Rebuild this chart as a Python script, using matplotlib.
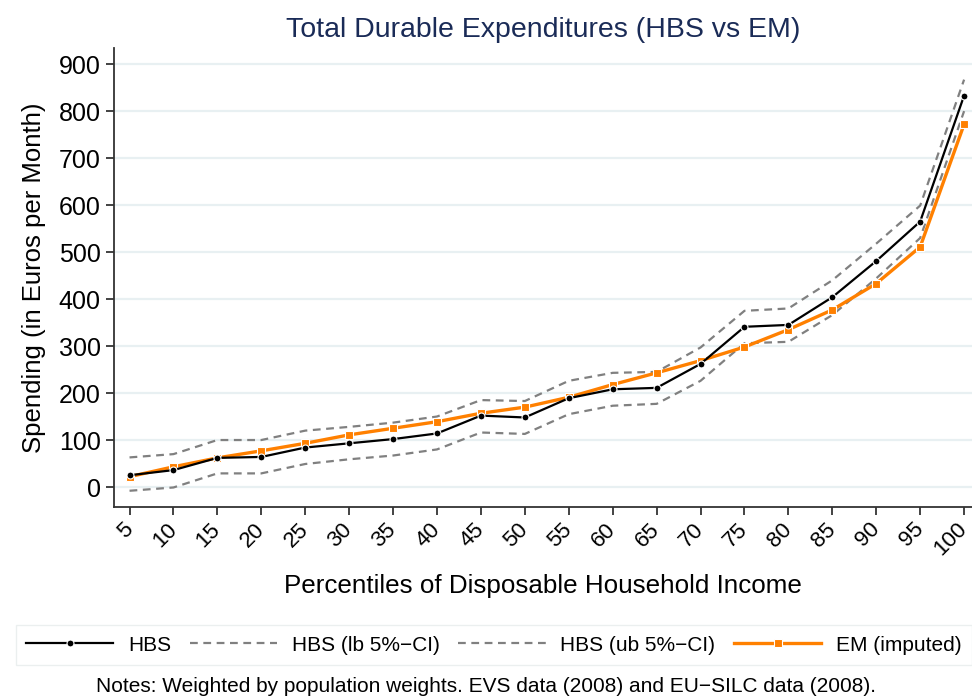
import numpy as np
import matplotlib.pyplot as plt

plt.rcParams['font.family'] = ['Liberation Sans', 'DejaVu Sans']

# percentiles of disposable household income
pct = [5, 10, 15, 20, 25, 30, 35, 40, 45, 50,
       55, 60, 65, 70, 75, 80, 85, 90, 95, 100]

hbs = [25, 36, 62, 64, 84, 93, 102, 114, 152, 148,
       189, 208, 211, 262, 341, 345, 404, 481, 565, 833]
hbs_lb = [-8, -1, 29, 29, 49, 59, 67, 80, 116, 113,
          155, 173, 177, 226, 306, 309, 366, 444, 530, 800]
hbs_ub = [63, 70, 100, 100, 120, 128, 137, 150, 185, 183,
          226, 243, 245, 297, 375, 380, 440, 518, 599, 867]
em = [22, 43, 62, 77, 93, 111, 125, 139, 157, 170,
      191, 218, 243, 269, 298, 335, 377, 433, 511, 772]

orange = '#ff8000'
grey = '#808080'

fig = plt.figure(figsize=(9.72, 6.98), dpi=100)
ax = fig.add_axes([0.117, 0.274, 0.883, 0.657])

ax.plot(pct, hbs_lb, color=grey, ls='--', lw=1.6, dashes=(3.5, 2.5), label='HBS (lb 5%\u2212CI)')
ax.plot(pct, hbs_ub, color=grey, ls='--', lw=1.6, dashes=(3.5, 2.5), label='HBS (ub 5%\u2212CI)')
ax.plot(pct, em, color=orange, lw=2.4, marker='s', ms=6, mec='white', mew=0.8,
        label='EM (imputed)')
ax.plot(pct, hbs, color='black', lw=1.6, marker='o', ms=5, mec='white', mew=0.8,
        label='HBS')

ax.set_xlim(3.2, 100.9)
ax.set_ylim(-42, 934)
ax.set_xticks(pct)
ax.set_xticklabels([str(p) for p in pct], rotation=45, fontsize=16,
                   ha='right', va='center', rotation_mode='anchor')
ax.set_yticks(range(0, 901, 100))
ax.tick_params(axis='y', labelsize=18, length=6, width=1.2, color='#222222')
ax.tick_params(axis='x', length=6, width=1.2, color='#222222', pad=8)

ax.grid(axis='y', color='#e8f0f2', lw=1.6)
ax.set_axisbelow(True)
for s in ['top', 'right']:
    ax.spines[s].set_visible(False)
for s in ['left', 'bottom']:
    ax.spines[s].set_color('#333333')
    ax.spines[s].set_linewidth(1.3)

ax.set_title('Total Durable Expenditures (HBS vs EM)', fontsize=20.5, color='#1a2b57', pad=8)
ax.set_ylabel('Spending (in Euros per Month)', fontsize=18.5, labelpad=9)
ax.set_xlabel('Percentiles of Disposable Household Income', fontsize=18.7, labelpad=10)

h, l = ax.get_legend_handles_labels()
order = [3, 0, 1, 2]
leg = fig.legend([h[i] for i in order], [l[i] for i in order], loc='lower left',
                 bbox_to_anchor=(0.016, 0.047, 0.984, 0.069), bbox_transform=fig.transFigure,
                 ncol=4, fontsize=15, frameon=True, fancybox=False, mode='expand',
                 handlelength=4.2, handletextpad=0.7, borderpad=0.5, borderaxespad=0)
leg.get_frame().set_edgecolor('#e6ecec')
leg.get_frame().set_linewidth(1.0)

fig.text(0.5, 0.017, 'Notes: Weighted by population weights. EVS data (2008) and EU\u2212SILC data (2008).',
         ha='center', va='center', fontsize=15)

fig.savefig('out.png', dpi=100, facecolor='white')
